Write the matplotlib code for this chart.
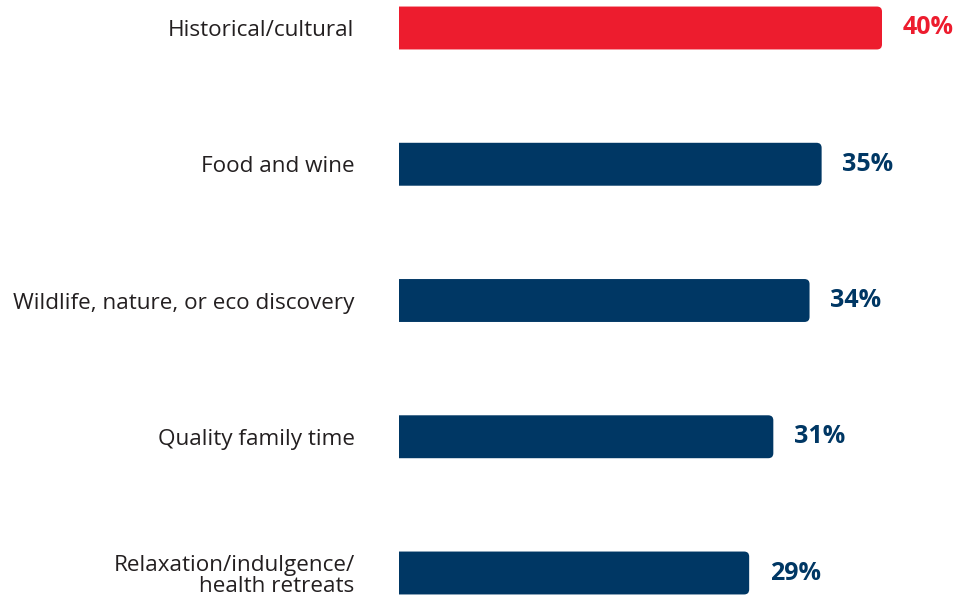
import matplotlib.pyplot as plt
from matplotlib.patches import FancyBboxPatch

categories = ['Historical/cultural', 'Food and wine', 'Wildlife, nature, or eco discovery',
              'Quality family time', 'Relaxation/indulgence/\nhealth retreats']
values = [40, 35, 34, 31, 29]
colors = ['#ED1C2E', '#003764', '#003764', '#003764', '#003764']

plt.rcParams['font.family'] = ['Open Sans', 'DejaVu Sans']

fig = plt.figure(figsize=(9.55, 6), dpi=100)
ax = fig.add_axes([399 / 955, 0, 1 - 399 / 955, 1])

bar_h = 0.315
r = 0.42  # corner radius in x units
ypos = list(range(len(values)))
for y, v, c in zip(ypos, values, colors):
    # start left of the axes so the clip gives square left corners
    p = FancyBboxPatch((-2, y - bar_h / 2), v + 2, bar_h,
                       boxstyle=f'round,pad=0,rounding_size={r}',
                       mutation_aspect=0.0887, fc=c, ec='none')
    ax.add_patch(p)
    ax.text(v + 1.7, y, f'{v}%', color=c, fontsize=18, fontweight='bold',
            va='center', ha='left')

ax.set_xlim(0, 556 / 12.075)
ax.set_ylim(4 + 27 / 136.25, -28 / 136.25)
ax.set_yticks(ypos)
ax.set_yticklabels(categories, fontsize=16.2, color='#231f20')
for lab in ax.get_yticklabels():
    lab.set_linespacing(1.0)
ax.tick_params(axis='y', length=0, pad=32)
ax.set_xticks([])
for s in ax.spines.values():
    s.set_visible(False)

fig.savefig('out.png', dpi=100)
